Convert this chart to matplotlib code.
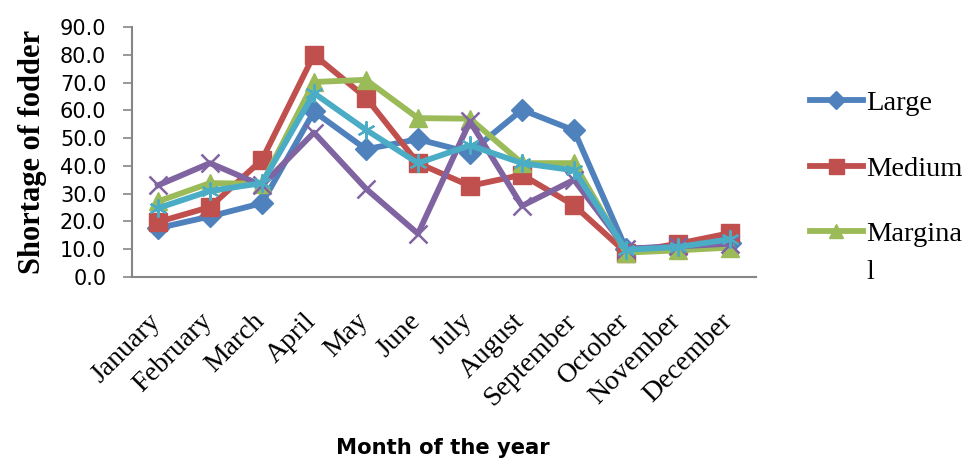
import matplotlib
matplotlib.use("Agg")
import matplotlib.pyplot as plt
from matplotlib.transforms import ScaledTranslation

months = ["January", "February", "March", "April", "May", "June", "July",
          "August", "September", "October", "November", "December"]
large = [17.6, 21.8, 26.6, 59.6, 46.0, 49.6, 44.8, 60.2, 52.8, 10.2, 11.0, 12.2]
medium = [19.8, 25.2, 42.2, 80.0, 64.6, 41.0, 32.8, 36.8, 25.8, 8.8, 12.0, 15.8]
marginal = [27.2, 33.8, 33.6, 70.2, 71.0, 57.2, 57.0, 41.0, 41.0, 8.8, 9.6, 10.6]
landless = [33.0, 41.0, 33.0, 52.0, 31.8, 15.6, 56.0, 25.6, 35.0, 10.2, 11.0, 12.0]
overall = [24.8, 31.0, 33.8, 66.2, 53.0, 41.0, 47.4, 41.0, 38.4, 9.8, 10.8, 13.6]
yticks = [0, 10, 20, 30, 40, 50, 60, 70, 80, 90]

fig = plt.figure(figsize=(9.66, 4.62), dpi=100)
ax = fig.add_axes([0.1366, 0.4004, 0.6460, 0.5411])

x = list(range(len(months)))
lw = 4.2
h_large, = ax.plot(x, large, color="#4F81BD", marker="D", markersize=11, lw=lw, label="Large")
h_med, = ax.plot(x, medium, color="#C0504D", marker="s", markersize=13.5, lw=lw, label="Medium")
h_marg, = ax.plot(x, marginal, color="#9BBB59", marker="^", markersize=13, lw=lw, label="Margina")
ax.plot(x, landless, color="#8064A2", marker="x", markersize=13, mew=1.8, lw=lw)
ax.plot(x, overall, color="#4BACC6", marker=(6, 2, 0), markersize=13, mew=1.6, lw=lw)

ax.set_xlim(-0.5, 11.5)
ax.set_ylim(0, 90)
ax.set_yticks(yticks)
ax.set_yticklabels([f"{v:.1f}" for v in yticks], fontsize=15, family="DejaVu Sans")
ax.set_xticks(x)
ax.set_xticklabels(months, rotation=45, ha="right", rotation_mode="anchor",
                   fontsize=20, family="Liberation Serif")
ax.tick_params(axis="x", length=0, pad=12)
shift = ScaledTranslation(-0.10, -0.15, fig.dpi_scale_trans)
for lab in ax.get_xticklabels():
    lab.set_transform(lab.get_transform() + shift)
ax.tick_params(axis="y", length=6.5, color="#868686", width=1.2, pad=12)
for s in ["top", "right"]:
    ax.spines[s].set_visible(False)
for s in ["left", "bottom"]:
    ax.spines[s].set_color("#868686")
    ax.spines[s].set_linewidth(1.5)

ax.set_ylabel("Shortage of fodder", fontsize=22, fontweight="bold",
              family="Liberation Serif")
ax.yaxis.set_label_coords(-0.136, 0.5)
fig.text(0.4586, 0.008, "Month of the year", fontsize=15.2, fontweight="bold",
         family="DejaVu Sans", ha="center", va="bottom")

leg = fig.legend(handles=[h_large, h_med, h_marg], loc="upper left",
                 bbox_to_anchor=(0.812, 0.86), frameon=False,
                 prop={"family": "Liberation Serif", "size": 20.5},
                 handlelength=1.85, handletextpad=0.12, labelspacing=1.39,
                 markerscale=0.8)

# the last legend label wraps onto a second line
fig.canvas.draw()
bb = leg.get_texts()[2].get_window_extent().transformed(fig.transFigure.inverted())
fig.text(bb.x0, bb.y0 - 38 / 462, "l", family="Liberation Serif", size=20.5,
         ha="left", va="bottom")

fig.savefig("out.png", dpi=100)
